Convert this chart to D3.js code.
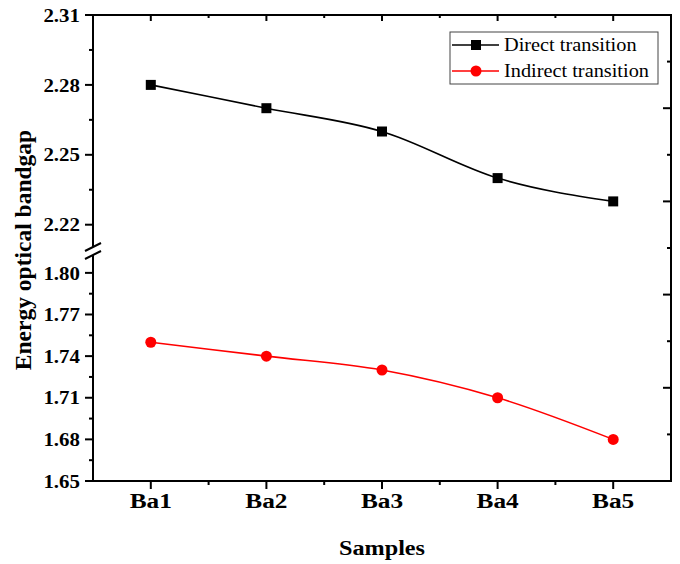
<!DOCTYPE html>
<html>
<head>
<meta charset="utf-8">
<script src="https://cdn.jsdelivr.net/npm/d3@7/dist/d3.min.js"></script>
<style>
  html, body { margin: 0; padding: 0; background: #fff; }
  svg { display: block; }
  text { font-family: "Liberation Serif", "Times New Roman", serif; }
</style>
</head>
<body>
<svg id="chart" width="680" height="564"></svg>
<script>
// Samples and measured band gaps (eV)
const categories = ["Ba1", "Ba2", "Ba3", "Ba4", "Ba5"];
const directGap = [2.28, 2.27, 2.26, 2.24, 2.23];
const indirectGap = [1.75, 1.74, 1.73, 1.71, 1.68];
const seriesNames = ["Direct transition", "Indirect transition"];
const upperTicks = [2.22, 2.25, 2.28, 2.31];
const lowerTicks = [1.65, 1.68, 1.71, 1.74, 1.77, 1.80];
const upperMinor = [2.235, 2.265, 2.295];
const lowerMinor = [1.665, 1.695, 1.725, 1.755, 1.785];

const svg = d3.select("#chart");
const L = 93, R = 671, T = 15, B = 481;

const x = d3.scalePoint().domain(categories).range([L, R]).padding(0.5);
// Broken y axis: two linear segments
const yUp = d3.scaleLinear().domain([2.21, 2.31]).range([248, T]);
const yLo = d3.scaleLinear().domain([1.65, 1.81]).range([B, 259]);
const step = x.step();

const g = svg.append("g");

// Text helper: position, then widen slightly
function label(parent, tx, ty, str, opts) {
  const t = parent.append("text")
    .attr("transform", `translate(${tx},${ty}) scale(${opts.sx || 1},1)`)
    .attr("text-anchor", opts.anchor || "start")
    .attr("font-size", opts.size)
    .attr("font-weight", opts.bold ? "bold" : "normal")
    .text(str);
  if (opts.dy) t.attr("dy", opts.dy);
  return t;
}

// Frame: top, bottom, right lines; left axis drawn in two parts with a break
const axisW = 2;
g.append("line").attr("x1", L).attr("x2", R).attr("y1", T).attr("y2", T)
  .attr("stroke", "#000").attr("stroke-width", axisW);
g.append("line").attr("x1", L - 1).attr("x2", R + 1).attr("y1", B).attr("y2", B)
  .attr("stroke", "#000").attr("stroke-width", axisW);
g.append("line").attr("x1", R).attr("x2", R).attr("y1", T - 1).attr("y2", B + 1)
  .attr("stroke", "#000").attr("stroke-width", axisW);
g.append("line").attr("x1", L).attr("x2", L).attr("y1", T - 1).attr("y2", 247)
  .attr("stroke", "#000").attr("stroke-width", axisW);
g.append("line").attr("x1", L).attr("x2", L).attr("y1", 255).attr("y2", B + 1)
  .attr("stroke", "#000").attr("stroke-width", axisW);
// Break marks
[247, 255].forEach(yc => {
  g.append("line").attr("x1", L - 8).attr("y1", yc + 4).attr("x2", L + 8).attr("y2", yc - 4)
    .attr("stroke", "#000").attr("stroke-width", 2);
});

// Left ticks (outward) and labels
function leftTicks(scale, majors, minors) {
  majors.forEach(v => {
    g.append("line").attr("x1", L - 8).attr("x2", L).attr("y1", scale(v)).attr("y2", scale(v))
      .attr("stroke", "#000").attr("stroke-width", 2);
    label(g, 80, scale(v), v.toFixed(2), { size: 19, bold: true, anchor: "end", sx: 1.1, dy: "0.35em" });
  });
  minors.forEach(v => {
    g.append("line").attr("x1", L - 4).attr("x2", L).attr("y1", scale(v)).attr("y2", scale(v))
      .attr("stroke", "#000").attr("stroke-width", 2);
  });
}
leftTicks(yUp, upperTicks, upperMinor);
leftTicks(yLo, lowerTicks, lowerMinor);

// Right axis: unbroken, evenly divided, ticks inward
const yRight = d3.scaleLinear().domain([0, 10]).range([B, T]);
d3.range(1, 10).forEach(i => {
  const len = i % 2 === 0 ? 8 : 4;
  g.append("line").attr("x1", R - len).attr("x2", R).attr("y1", yRight(i)).attr("y2", yRight(i))
    .attr("stroke", "#000").attr("stroke-width", 2);
});

// Bottom ticks (outward) and top ticks (inward)
categories.forEach(c => {
  const xc = x(c);
  g.append("line").attr("x1", xc).attr("x2", xc).attr("y1", B).attr("y2", B + 8)
    .attr("stroke", "#000").attr("stroke-width", 2);
  g.append("line").attr("x1", xc).attr("x2", xc).attr("y1", T).attr("y2", T + 6)
    .attr("stroke", "#000").attr("stroke-width", 2);
  label(g, xc, 508, c, { size: 22, bold: true, anchor: "middle", sx: 1.15 });
});
categories.slice(0, -1).forEach(c => {
  const xm = x(c) + step / 2;
  g.append("line").attr("x1", xm).attr("x2", xm).attr("y1", B).attr("y2", B + 4)
    .attr("stroke", "#000").attr("stroke-width", 2);
  g.append("line").attr("x1", xm).attr("x2", xm).attr("y1", T).attr("y2", T + 3)
    .attr("stroke", "#000").attr("stroke-width", 2);
});

// Axis titles
label(g, (L + R) / 2, 555, "Samples", { size: 22, bold: true, anchor: "middle", sx: 1.1 });
g.append("text").attr("transform", "translate(31,250) rotate(-90)")
  .attr("text-anchor", "middle").attr("font-weight", "bold").attr("font-size", 23.5)
  .text("Energy optical bandgap");

// Series
const line = (scale) => d3.line()
  .x((d, i) => x(categories[i]))
  .y(d => scale(d))
  .curve(d3.curveMonotoneX);

g.append("path").datum(directGap).attr("d", line(yUp))
  .attr("fill", "none").attr("stroke", "#000").attr("stroke-width", 1.6);
g.append("path").datum(indirectGap).attr("d", line(yLo))
  .attr("fill", "none").attr("stroke", "#ff0000").attr("stroke-width", 1.6);

g.selectAll(".sq").data(directGap).enter().append("rect")
  .attr("x", (d, i) => x(categories[i]) - 5).attr("y", d => yUp(d) - 5)
  .attr("width", 10).attr("height", 10).attr("fill", "#000");
g.selectAll(".ci").data(indirectGap).enter().append("circle")
  .attr("cx", (d, i) => x(categories[i])).attr("cy", d => yLo(d))
  .attr("r", 5.5).attr("fill", "#ff0000");

// Legend
const lg = g.append("g");
lg.append("rect").attr("x", 450).attr("y", 32).attr("width", 208).attr("height", 52)
  .attr("fill", "#fff").attr("stroke", "#444").attr("stroke-width", 1);
const legendColors = ["#000", "#ff0000"];
seriesNames.forEach((name, i) => {
  const yy = 45 + i * 26;
  lg.append("line").attr("x1", 452).attr("x2", 499).attr("y1", yy).attr("y2", yy)
    .attr("stroke", legendColors[i]).attr("stroke-width", 1.6);
  if (i === 0) {
    lg.append("rect").attr("x", 471).attr("y", yy - 5).attr("width", 10).attr("height", 10)
      .attr("fill", "#000");
  } else {
    lg.append("circle").attr("cx", 476).attr("cy", yy).attr("r", 5.5).attr("fill", "#ff0000");
  }
  label(lg, 504, yy, name, { size: 19, sx: 1.07, dy: "0.33em" });
});
</script>
</body>
</html>
